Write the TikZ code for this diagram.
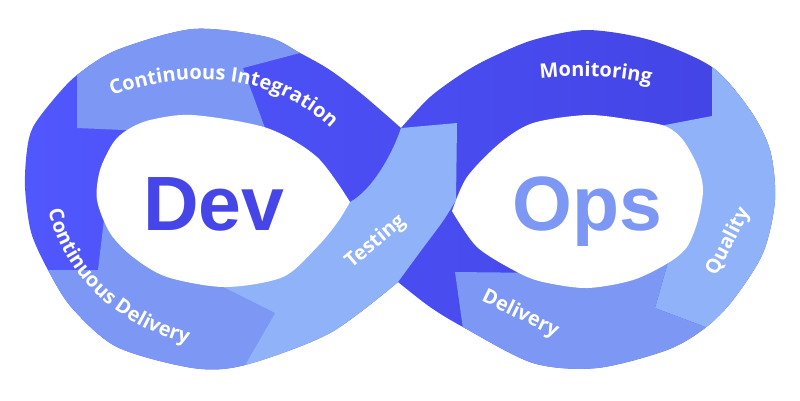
\documentclass[tikz,border=0pt]{standalone}
\usepackage{fontspec}
\usetikzlibrary{decorations.text}
\newfontfamily\lblfont{Open Sans}
\newfontfamily\bigfont{Liberation Sans}
\definecolor{bandDarkL}{HTML}{5057FD}
\definecolor{bandDarkR}{HTML}{4343E4}
\definecolor{bandMid}{HTML}{7C97F4}
\definecolor{bandLight}{HTML}{90B2F8}
\definecolor{devText}{HTML}{4646E8}
\definecolor{opsText}{HTML}{7C97F4}
\def\OuterBand{plot[smooth] coordinates {(401,128)(430,97)(463,73)(490,58)(533,40)(587,30)(650,40)(712,67)(750,110)(770,150)(775,200)(763,253)(733,300)(705,328)(667,350)(597,368)(533,363)(463,327)(430,307)(398,282)} -- plot[smooth] coordinates {(398,282)(330,333)(245,365)(193,368)(117,347)(72,308)(48,270)(31,232)(25,187)(27,150)(33,127)(53,100)(77,75)(117,50)(193,29)(267,37)(300,53)(330,70)(363,95)(401,128)} -- cycle}
\def\DevHole{plot[smooth] coordinates {(350,202)(317,157)(267,128)(193,115)(150,120)(127,130)(113,143)(100,170)(97,200)(110,233)(133,257)(167,277)(225,287)(283,277)(317,247)(337,223)(350,202)} -- cycle}
\def\OpsHole{plot[smooth] coordinates {(452,211)(467,177)(500,143)(533,123)(587,115)(633,120)(665,126)(683,140)(698,167)(703,190)(698,220)(687,247)(668,263)(633,280)(587,288)(543,282)(517,272)(477,247)(452,211)} -- cycle}
\tikzset{
  lblnode/.style={text=white, font=\lblfont\bfseries\fontsize{5}{6}\selectfont, inner sep=0pt},
  bignode/.style={font=\bigfont\bfseries\fontsize{19.25}{20}\selectfont, inner sep=0pt},
  curvelbl/.style={decorate, decoration={text along path, text align=center, text color=white, text={|\lblfont\bfseries\fontsize{5}{6}\selectfont|#1}}}
}
\begin{document}
\begin{tikzpicture}[x=0.25pt,y=-0.25pt]
\useasboundingbox (0,0) rectangle (800,400);
% base band
\shade[left color=bandDarkL, right color=bandDarkR] \OuterBand;
\begin{scope}
\clip \OuterBand;
% Continuous Integration
\fill[bandMid] (77,0) -- (77,128) -- (160,131.5) -- (265,128) -- (243,68) -- (300,53) -- (340,42) -- (330,0) -- cycle;
% Continuous Delivery
\fill[bandMid] (0,270) -- (98,270) -- (105,211) -- (223,287) -- (275,313) -- (245,365) -- (233,400) -- (0,400) -- cycle;
% Quality
\fill[bandLight] (712,0) -- (712,116) -- (665,125) -- (640,130) -- (640,250) -- (668,262) -- (655,308) -- (708,328) -- (760,348) -- (800,400) -- (800,0) -- cycle;
% Delivery
\fill[bandMid] (455,272) -- (550,273) -- (668,262) -- (655,308) -- (708,328) -- (760,348) -- (760,400) -- (473,400) -- cycle;
% Testing
\fill[bandLight] (401,128) -- (457,123) -- (456,200) -- plot[smooth] coordinates {(456,200)(443,221)(420,252)(398,282)} -- (398,400) -- (240,400) -- (245,365) -- (275,313) -- (223,287) -- (350,202) .. controls (372,190) and (392,155) .. (401,128) -- cycle;
\end{scope}
\fill[white] \DevHole;
\fill[white] \OpsHole;
% big words
\node[bignode, text=devText, anchor=base] (dev) at (214,230) {Dev};
\node[bignode, text=opsText, anchor=base] (ops) at (587.5,230) {Ops};
% labels
\path[curvelbl=Continuous Integration] (100,101) .. controls (170,70) and (275,65) .. (340,138);
\path[curvelbl=Continuous Delivery] (43,172) .. controls (46,262) and (110,336) .. (226,352);
\path[curvelbl=Monitoring] (510,83) .. controls (565,72) and (630,74) .. (680,92);
\node[lblnode, rotate=40, anchor=base] (testing) at (379,246) {Testing};
\node[lblnode, rotate=63, anchor=base] (quality) at (733,244) {Quality};
\node[lblnode, rotate=-26, anchor=base] (delivery) at (518,319) {Delivery};
\end{tikzpicture}
\end{document}
